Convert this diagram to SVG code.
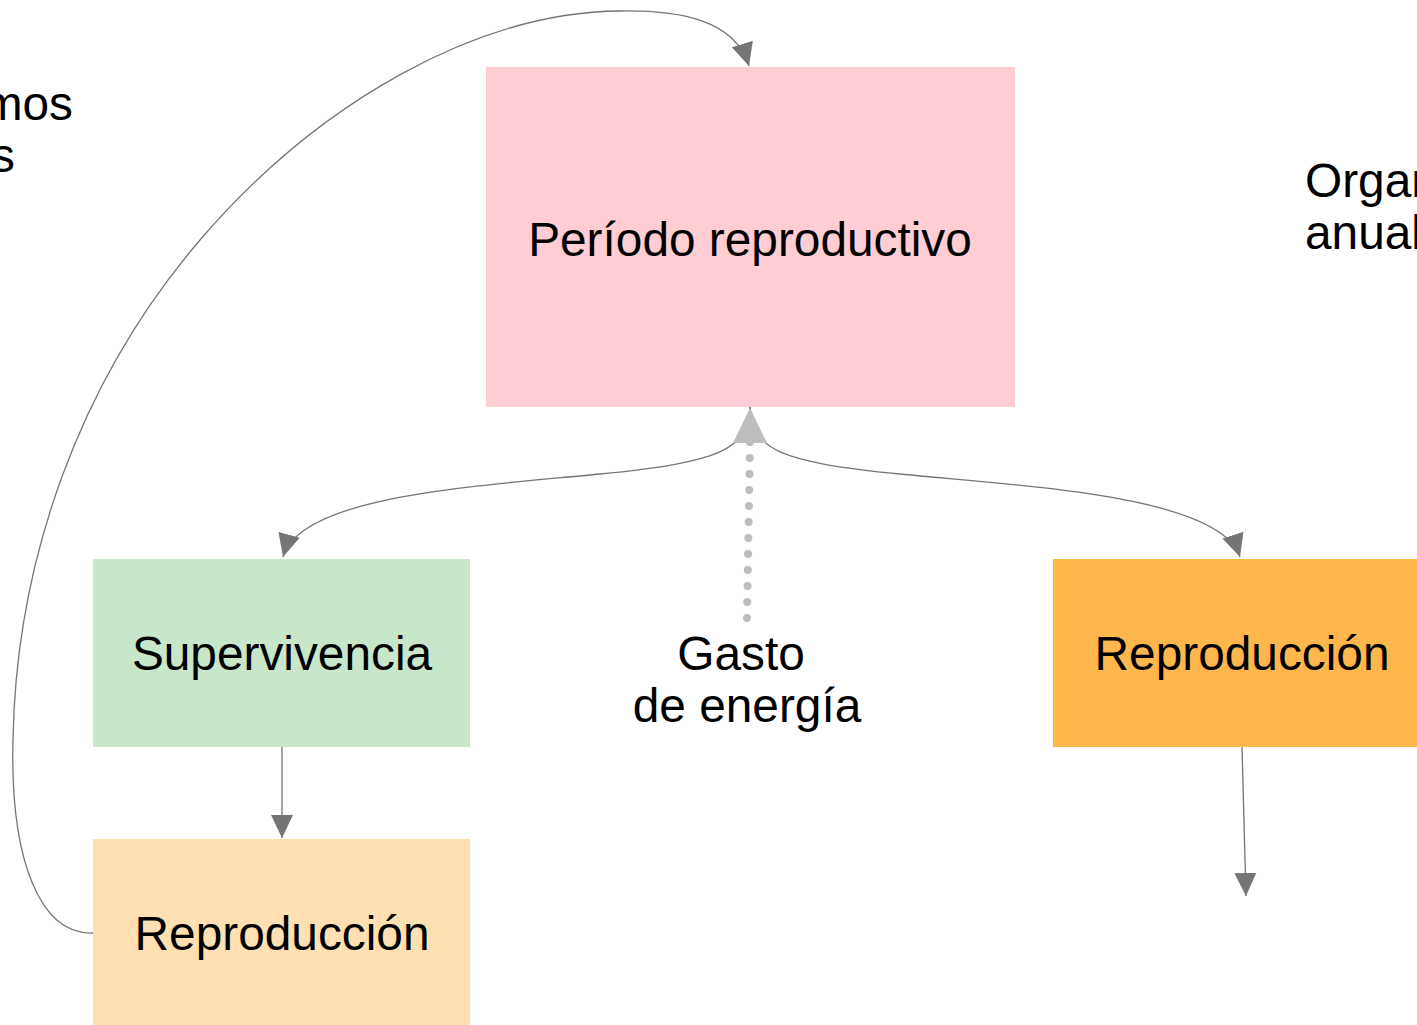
<svg xmlns="http://www.w3.org/2000/svg" width="1417" height="1025" viewBox="0 0 1417 1025">
<style>
text{font-family:"Liberation Sans",Arial,sans-serif;font-size:47.8px;fill:#000}
.c{text-anchor:middle}
.e{stroke:#757575;stroke-width:1.3;fill:none}
</style>
<defs>
<marker id="ah" markerUnits="userSpaceOnUse" markerWidth="24" markerHeight="24" viewBox="0 0 24 24" refX="23" refY="12" orient="auto">
<path d="M0,1 L23,12 L0,23 Z" fill="#757575"/>
</marker>
<marker id="ahg" markerUnits="userSpaceOnUse" markerWidth="36" markerHeight="36" viewBox="0 0 36 36" refX="35" refY="18" orient="auto">
<path d="M0,1 L35,18 L0,35 Z" fill="#bdbdbd"/>
</marker>
</defs>
<g id="nodes">
<g id="periodo"><rect x="486" y="67" width="529" height="340" fill="#ffcdd2"/><text class="c" x="750" y="256">Período reproductivo</text></g>
<g id="supervivencia"><rect x="93" y="559" width="377" height="188" fill="#c8e6c9"/><text class="c" x="282" y="670">Supervivencia</text></g>
<g id="reproduccion2"><rect x="1053" y="559" width="370" height="188" fill="#ffb74d"/><text class="c" x="1242" y="670">Reproducción</text></g>
<g id="reproduccion1"><rect x="93" y="839" width="377" height="190" fill="#ffe0b2"/><text class="c" x="282" y="950">Reproducción</text></g>
<g id="gasto"><text class="c" x="741" y="670">Gasto</text><text class="c" x="747" y="722">de energía</text></g>
<g id="perennes"><text x="73" y="120" text-anchor="end">mos</text><text x="15" y="172" text-anchor="end">s</text></g>
<g id="anuales"><text x="1305" y="197">Organ</text><text x="1305" y="249">anual</text></g>
</g>
<g id="connectors">
<path class="e" d="M750,407 C748,450 720,462 600,474 S300,495 283,557" marker-end="url(#ah)"/>
<path class="e" d="M750,407 C752,450 780,462 900,474 S1220,495 1240,557" marker-end="url(#ah)"/>
<path d="M747,618 L750,442" stroke="#bdbdbd" stroke-width="8" stroke-linecap="round" stroke-dasharray="0 16" fill="none"/>
<path d="M750,442 L750,408" stroke="none" fill="none" marker-end="url(#ahg)"/>
<path class="e" d="M282,747 L282,838" marker-end="url(#ah)"/>
<path class="e" d="M1242,747 L1246,896" marker-end="url(#ah)"/>
<path class="e" d="M93,933 C40,935 10,860 13,740 C16,560 80,380 200,240 C320,100 480,12 620,11 C680,10 735,20 749,66" marker-end="url(#ah)"/>
</g>
</svg>
